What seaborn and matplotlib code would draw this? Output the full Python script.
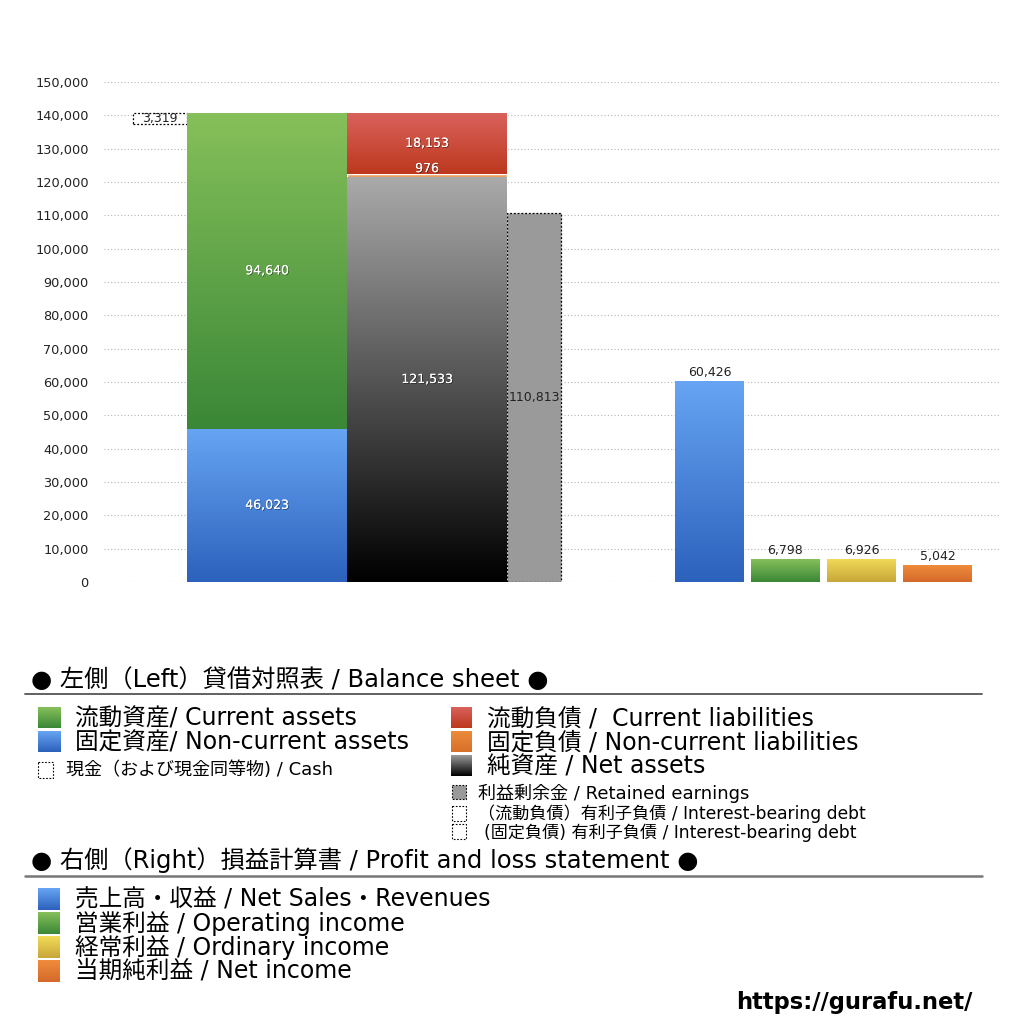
import numpy as np
import pandas as pd
import matplotlib
matplotlib.use("Agg")
import matplotlib.pyplot as plt
import matplotlib.patheffects as pe
from matplotlib.colors import LinearSegmentedColormap
from matplotlib.patches import Rectangle
import seaborn as sns

# ---------------- data ----------------
noncurrent_assets = 46023
current_assets = 94640
cash = 3319
net_assets = 121533
noncurrent_liabilities = 976
current_liabilities = 18153
retained_earnings = 110813

pl_names = ["売上高・収益", "営業利益", "経常利益", "当期純利益"]
pl_values = [60426, 6798, 6926, 5042]

y_ticks = list(range(0, 150001, 10000))

# ---------------- style ----------------
sns.set_style("white")
plt.rcParams['font.family'] = ['DejaVu Sans', 'Noto Sans CJK JP']

W = 1024
fig = plt.figure(figsize=(10.24, 10.24), dpi=100)
ax = fig.add_axes([104 / W, 1 - 582 / W, (1000 - 104) / W, 500 / W])

# layout constants (pixel-like x units)
x_cash, w_cash = 160, 54
x_assets, w_bs = 267, 160
x_liab = 427
x_ret, w_ret = 534, 54
pl_pos = [709.5, 785.5, 861.5, 937.5]
pl_w = 69

G = {
    "blue": ("#67a5f3", "#2c61bc"),
    "green": ("#86c05a", "#3a8737"),
    "red": ("#d9625c", "#bd381e"),
    "orange": ("#f08c3c", "#d4692a"),
    "yellow": ("#f2dc58", "#c7a63a"),
    "black": ("#aaaaaa", "#000000"),
}


def grad_fill(axis, patch, colors):
    x0, y0 = patch.get_x(), patch.get_y()
    w, h = patch.get_width(), patch.get_height()
    cmap = LinearSegmentedColormap.from_list("g", [colors[1], colors[0]])
    grad = np.linspace(0, 1, 256).reshape(-1, 1)
    im = axis.imshow(grad, extent=[x0, x0 + w, y0, y0 + h], origin="lower",
                     aspect="auto", cmap=cmap, zorder=patch.get_zorder() + 0.1)
    im.set_clip_path(patch)
    return im


# ---- balance sheet: left (assets) ----
b1 = ax.bar(x_assets, noncurrent_assets, width=w_bs, color=G["blue"][1], zorder=2)[0]
b2 = ax.bar(x_assets, current_assets, bottom=noncurrent_assets, width=w_bs, color=G["green"][1], zorder=2)[0]
grad_fill(ax, b1, G["blue"])
grad_fill(ax, b2, G["green"])

total_assets = noncurrent_assets + current_assets
ax.bar(x_cash, cash, bottom=total_assets - cash, width=w_cash, facecolor="white",
       edgecolor="black", linestyle=(0, (1.5, 1.5)), linewidth=0.9, zorder=2)

# ---- balance sheet: right (liabilities + net assets) ----
b3 = ax.bar(x_liab, net_assets, width=w_bs, color="#444444", zorder=2)[0]
ax.bar(x_liab, noncurrent_liabilities, bottom=net_assets, width=w_bs, color="#e48a3a", zorder=2)
b5 = ax.bar(x_liab, current_liabilities, bottom=net_assets + noncurrent_liabilities, width=w_bs,
            color=G["red"][1], zorder=2)[0]
grad_fill(ax, b3, G["black"])
grad_fill(ax, b5, G["red"])

ax.bar(x_ret, retained_earnings, width=w_ret, facecolor="#9a9a9a", edgecolor="black",
       linestyle=(0, (1.5, 1.5)), linewidth=0.9, zorder=2)

# ---- P&L bars via seaborn ----
pl_df = pd.DataFrame({"pos": pl_pos, "value": pl_values, "item": pl_names})
n_before = len(ax.patches)
sns.barplot(data=pl_df, x="pos", y="value", hue="item", native_scale=True,
            palette=[G["blue"][1], G["green"][1], G["yellow"][1], G["orange"][1]],
            width=pl_w / 76, dodge=False, errorbar=None, saturation=1, legend=False, ax=ax)
pl_patches = [p for p in ax.patches[n_before:] if p.get_height() > 0]
pl_patches.sort(key=lambda p: p.get_x())
for p, key in zip(pl_patches, ["blue", "green", "yellow", "orange"]):
    p.set_zorder(2)
    grad_fill(ax, p, G[key])

# ---- labels ----
shadow = [pe.withSimplePatchShadow(offset=(0.6, -0.6), shadow_rgbFace="black", alpha=0.45), pe.Normal()]
lab_kw = dict(ha="center", va="center", fontsize=9, zorder=5)
ax.text(x_assets, noncurrent_assets / 2, f"{noncurrent_assets:,}", color="white", path_effects=shadow, **lab_kw)
ax.text(x_assets, noncurrent_assets + current_assets / 2, f"{current_assets:,}", color="white", path_effects=shadow, **lab_kw)
ax.text(x_cash, total_assets - cash / 2, f"{cash:,}", color="#222222", **lab_kw)
ax.text(x_liab, net_assets / 2, f"{net_assets:,}", color="white", path_effects=shadow, **lab_kw)
ax.text(x_liab, net_assets + noncurrent_liabilities + 1500, f"{noncurrent_liabilities:,}", color="white",
        path_effects=shadow, **lab_kw)
ax.text(x_liab, net_assets + noncurrent_liabilities + current_liabilities / 2, f"{current_liabilities:,}",
        color="white", path_effects=shadow, **lab_kw)
ax.text(x_ret, retained_earnings / 2, f"{retained_earnings:,}", color="#222222", **lab_kw)
for xp, v in zip(pl_pos, pl_values):
    ax.text(xp, v + 600, f"{v:,}", ha="center", va="bottom", fontsize=9, color="#222222", zorder=5)

# ---- axes styling ----
ax.set_xlim(104, 1000)
ax.set_ylim(0, 150000)
ax.set_yticks(y_ticks)
ax.set_yticklabels([f"{t:,}" for t in y_ticks], fontsize=9.3, color="#222222")
ax.tick_params(axis="y", length=0, pad=11)
ax.set_xticks([])
ax.set_xlabel("")
ax.set_ylabel("")
ax.yaxis.grid(True, linestyle=(0, (1, 2)), color="#b5b5b5", linewidth=0.8)
ax.set_axisbelow(True)
for s in ax.spines.values():
    s.set_visible(False)
ax.patch.set_alpha(0)

# ---------------- legend area (pixel overlay) ----------------
lax = fig.add_axes([0, 0, 1, 1], zorder=-1)
lax.set_xlim(0, W)
lax.set_ylim(W, 0)
lax.axis("off")


def sq(x0, y0, w, h, colors=None, face=None, dotted=False):
    r = Rectangle((x0, y0), w, h, facecolor=face if face else (colors[1] if colors else "white"),
                  edgecolor="black" if dotted else "none", linestyle=(0, (1.5, 1.5)) if dotted else "-",
                  linewidth=0.8, zorder=1)
    lax.add_patch(r)
    if colors:
        cmap = LinearSegmentedColormap.from_list("g", [colors[0], colors[1]])
        grad = np.linspace(0, 1, 64).reshape(-1, 1)
        im = lax.imshow(grad, extent=[x0, x0 + w, y0 + h, y0], origin="upper", aspect="auto",
                        cmap=cmap, zorder=2)
        im.set_clip_path(r)


def txt(x, y, s, size, **kw):
    lax.text(x, y, s, fontsize=size, va="center", ha="left", color="black", **kw)


HEAD = 17.5
BIG = 17
SMALL = 13
TINY = 12.3

txt(31, 680, "● 左側（Left）貸借対照表 / Balance sheet ●", HEAD)
lax.plot([25, 982], [694, 694], color="#555555", lw=1.3)

sq(38, 707, 23, 21, G["green"])
txt(75, 718, "流動資産/ Current assets", BIG)
sq(38, 731, 23, 21, G["blue"])
txt(75, 742, "固定資産/ Non-current assets", BIG)
sq(38, 762, 15, 16, dotted=True)
txt(66, 770, "現金（および現金同等物) / Cash", SMALL)

sq(451, 707, 21, 21, G["red"])
txt(487, 718, "流動負債 /  Current liabilities", BIG)
sq(451, 731, 21, 21, ("#ec8b3a", "#d86f2a"))
txt(487, 742, "固定負債 / Non-current liabilities", BIG)
sq(451, 755, 21, 21, ("#9a9a9a", "#000000"))
txt(487, 766, "純資産 / Net assets", BIG)
sq(452, 785, 14, 14, face="#999999", dotted=True)
txt(478, 793, "利益剰余金 / Retained earnings", SMALL)
sq(452, 806, 14, 15, dotted=True)
txt(478, 814, "（流動負債）有利子負債 / Interest-bearing debt", TINY)
sq(452, 824, 14, 15, dotted=True)
txt(484, 833, "(固定負債) 有利子負債 / Interest-bearing debt", TINY)

txt(31, 860, "● 右側（Right）損益計算書 / Profit and loss statement ●", HEAD)
lax.plot([25, 982], [876, 876], color="#777777", lw=1.8)

pl_legend = [
    ("売上高・収益 / Net Sales・Revenues", G["blue"]),
    ("営業利益 / Operating income", G["green"]),
    ("経常利益 / Ordinary income", G["yellow"]),
    ("当期純利益 / Net income", G["orange"]),
]
for i, (s, c) in enumerate(pl_legend):
    y = 899 + 24 * i
    sq(38, y - 11, 22, 22, c)
    txt(75, y, s, BIG)

lax.text(972, 1003, "https://gurafu.net/", fontsize=16.3, fontweight="bold", ha="right", va="center",
         color="black")

fig.savefig("out.png", dpi=100)
